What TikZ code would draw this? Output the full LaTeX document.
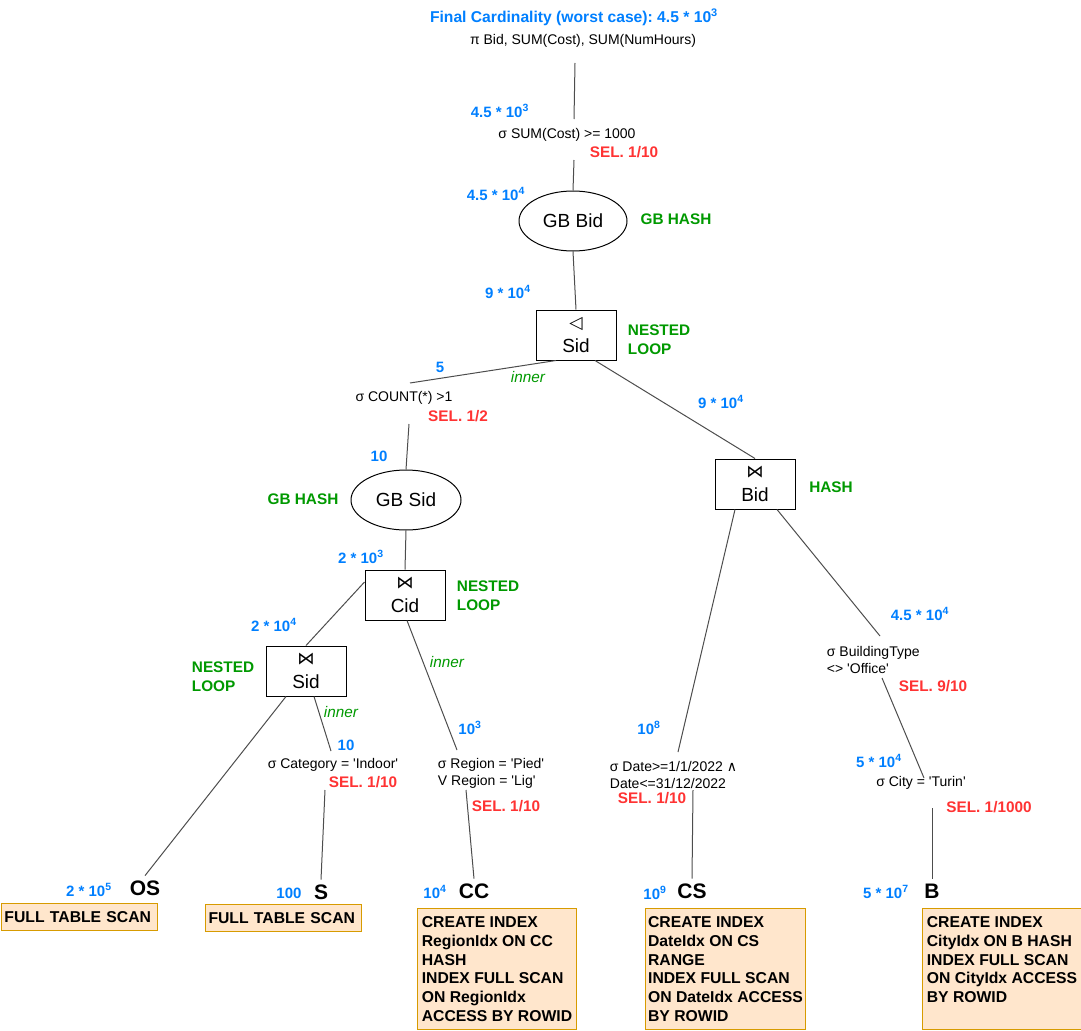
\documentclass[tikz,border=0pt]{standalone}
\usepackage{fontspec}
\setmainfont{Liberation Sans}[Ligatures=TeXOff]
\newfontfamily\symfont{DejaVu Sans}
\usetikzlibrary{shapes.geometric}

\definecolor{cardblue}{RGB}{0,127,255}
\definecolor{selred}{RGB}{255,51,51}
\definecolor{algogreen}{RGB}{0,153,0}
\definecolor{scanfill}{RGB}{255,230,204}
\definecolor{scandraw}{RGB}{215,155,0}
\definecolor{linkgray}{RGB}{77,77,77}

\newcommand{\opsym}[1]{{\symfont\fontsize{13}{14}\selectfont #1}}

\tikzset{every picture/.style={line width=0.75pt}}
\tikzset{
  card/.style={text=cardblue, font=\bfseries\fontsize{11.25}{13.5}\selectfont},
  sel/.style={text=selred, font=\bfseries\fontsize{11.5}{13.5}\selectfont},
  algo/.style={text=algogreen, font=\bfseries\fontsize{11.5}{14.25}\selectfont, align=left},
  innerlbl/.style={text=algogreen, font=\itshape\fontsize{11.5}{13.5}\selectfont},
  op/.style={font=\fontsize{10.5}{12.75}\selectfont, align=left},
  joinbox/.style={draw, minimum width=60pt, minimum height=37.5pt, inner sep=0pt, align=center, font=\fontsize{14.25}{16}\selectfont},
  gbell/.style={draw, ellipse, minimum width=81pt, minimum height=45pt, inner sep=0pt, font=\fontsize{14.25}{16}\selectfont},
  tbl/.style={font=\bfseries\fontsize{15.75}{18}\selectfont},
  scan/.style={draw=scandraw, fill=scanfill, font=\bfseries\fontsize{11.8}{14.1}\selectfont, align=left, anchor=north west},
  link/.style={draw=linkgray},
}

\begin{document}
\frenchspacing
\begin{tikzpicture}[x=0.75pt,y=0.75pt,yscale=-1,xscale=1]
\useasboundingbox (0,0) rectangle (1081,1031);

% Projection and HAVING
\node[card, font=\bfseries\fontsize{11.75}{14}\selectfont] (final) at (574,17) {Final Cardinality (worst case): 4.5 * 10\textsuperscript{3}};
\node[op] (proj) at (583,41) {π Bid, SUM(Cost), SUM(NumHours)};
\node[card] (c1) at (500,111) {4.5 * 10\textsuperscript{3}};
\node[op] (having) at (567,135) {σ SUM(Cost) >= 1000};
\node[sel] (sel1) at (624,152) {SEL. 1/10};
\coordinate (projB) at (575,63);
\coordinate (havT) at (574,119);
\coordinate (havB) at (574,160);

% Group by Bid
\node[card] (c2) at (496,194) {4.5 * 10\textsuperscript{4}};
\node[gbell] (gbbid) at (573,221) {GB Bid};
\node[algo] (gbhash1) at (676,219) {GB HASH};

% Anti join on Sid
\node[card] (c3) at (508,292) {9 * 10\textsuperscript{4}};
\node[joinbox] (aj) at (576,335) {\opsym{◁}\\[2pt]Sid};
\node[algo, anchor=west] (nl1) at (623,340) {NESTED\\LOOP};

% Left branch: COUNT and group by Sid
\node[card] (c4) at (440,367) {5};
\node[innerlbl] (inner1) at (528,377) {inner};
\node[op] (count) at (404,398) {σ COUNT(*) >1};
\node[sel] (sel2) at (458,416) {SEL. 1/2};
\coordinate (cntT) at (410,383);
\coordinate (cntB) at (409,424);
\node[card] (c5) at (379,456) {10};
\node[gbell, minimum width=82.5pt] (gbsid) at (406,500) {GB Sid};
\node[algo] (gbhash2) at (303,499) {GB HASH};

% Join on Cid
\node[card] (c6) at (361,557) {2 * 10\textsuperscript{3}};
\node[joinbox] (cid) at (405,595) {\opsym{⋈}\\[2pt]Cid};
\node[algo, anchor=west] (nl2) at (452,596) {NESTED\\LOOP};

% Join on Sid
\node[card] (c7) at (274,625) {2 * 10\textsuperscript{4}};
\node[joinbox] (sid) at (306,671) {\opsym{⋈}\\[2pt]Sid};
\node[algo, anchor=west] (nl3) at (187,677) {NESTED\\LOOP};
\node[innerlbl] (inner2) at (341,712) {inner};
\node[card] (c8) at (346,745) {10};
\node[op] (cat) at (333,765) {σ Category = 'Indoor'};
\node[sel] (sel3) at (363,782) {SEL. 1/10};
\coordinate (catT) at (331,751);
\coordinate (catB) at (325,790);

% Region selection
\node[innerlbl] (inner3) at (447,662) {inner};
\node[card] (c9) at (470,728) {10\textsuperscript{3}};
\node[op, anchor=west] (reg) at (433,773) {σ Region = 'Pied'\\V Region = 'Lig'};
\node[sel] (sel4) at (506,806) {SEL. 1/10};
\coordinate (regT) at (457,750);
\coordinate (regB) at (466,790);

% Tables OS, S, CC
\node[card] (cos) at (89,890) {2 * 10\textsuperscript{5}};
\node[tbl] (os) at (145,888) {OS};
\node[scan, text width=112.5pt, inner xsep=2.25pt, inner ysep=0pt, minimum height=20.25pt] (osscan) at (1,903) {FULL TABLE SCAN};
\node[card] (cs1) at (289,893) {100};
\node[tbl] (s) at (321,892) {S};
\node[scan, text width=112.5pt, inner xsep=2.25pt, inner ysep=0pt, minimum height=20.25pt] (sscan) at (205,904) {FULL TABLE SCAN};
\node[card] (ccc) at (435,892) {10\textsuperscript{4}};
\node[tbl] (cc) at (474,891) {CC};
\node[scan, minimum width=119.25pt, minimum height=90.75pt, inner sep=0pt] (ccscan) at (417,908) {CREATE INDEX\\RegionIdx ON CC\\HASH\\INDEX FULL SCAN\\ON RegionIdx\\ACCESS BY ROWID};

% Right branch: hash join on Bid
\node[card] (c10) at (721,402) {9 * 10\textsuperscript{4}};
\node[joinbox] (bid) at (755,484) {\opsym{⋈}\\[2pt]Bid};
\node[algo] (hash) at (831,487) {HASH};

% Date selection and CS
\node[card] (c11) at (649,728) {10\textsuperscript{8}};
\node[op, anchor=west] (date) at (605,775) {σ Date>=1/1/2022 {\symfont ∧}\\Date<=31/12/2022};
\node[sel] (sel5) at (652,798) {SEL. 1/10};
\coordinate (dateT) at (678,752);
\coordinate (dateB) at (693,790);
\node[card] (ccs) at (655,893) {10\textsuperscript{9}};
\node[tbl] (cs) at (692,891) {CS};
\node[scan, minimum width=120pt, minimum height=90.75pt, inner sep=0pt] (csscan) at (645,908) {CREATE INDEX\\DateIdx ON CS\\RANGE\\INDEX FULL SCAN\\ON DateIdx ACCESS\\BY ROWID};

% BuildingType and City selections, B
\node[card] (c12) at (920,614) {4.5 * 10\textsuperscript{4}};
\node[op, anchor=west] (btype) at (822,660) {σ BuildingType\\<> 'Office'};
\node[sel] (sel6) at (933,686) {SEL. 9/10};
\coordinate (btT) at (880,636);
\coordinate (btB) at (882,678);
\node[card] (c13) at (879,761) {5 * 10\textsuperscript{4}};
\node[op] (city) at (921,783) {σ City = 'Turin'};
\node[sel] (sel7) at (989,807) {SEL. 1/1000};
\coordinate (cityT) at (924,778);
\coordinate (cityB) at (932,808);
\node[card] (cb) at (886,892) {5 * 10\textsuperscript{7}};
\node[tbl] (b) at (932,891) {B};
\node[scan, minimum width=119.25pt, minimum height=90.75pt, inner sep=0pt] (bscan) at (922,908) {CREATE INDEX\\CityIdx ON B HASH\\INDEX FULL SCAN\\ON CityIdx ACCESS\\BY ROWID\\\mbox{}};

% Connectors
\draw[link] (projB) -- (havT);
\draw[link] (havB) -- (gbbid.north);
\draw[link] (gbbid.south) -- (aj.north);
\draw[link] ([xshift=-15pt]aj.south) -- (cntT);
\draw[link] (cntB) -- (gbsid.north);
\draw[link] (gbsid.south) -- (cid.north);
\draw[link] ([yshift=-9.75pt]cid.west) -- (sid.north);
\draw[link] ([xshift=-15pt]sid.south) -- (os.north);
\draw[link] ([xshift=6pt]sid.south) -- (catT);
\draw[link] (catB) -- (s.north);
\draw[link] ([xshift=1.5pt]cid.south) -- (regT);
\draw[link] (regB) -- (cc.north);
\draw[link] ([xshift=14.25pt]aj.south) -- (bid.north);
\draw[link] ([xshift=-15pt]bid.south) -- (dateT);
\draw[link] (dateB) -- (cs.north);
\draw[link] ([xshift=16.5pt]bid.south) -- (btT);
\draw[link] (btB) -- (cityT);
\draw[link] (cityB) -- (b.north);
\end{tikzpicture}
\end{document}
